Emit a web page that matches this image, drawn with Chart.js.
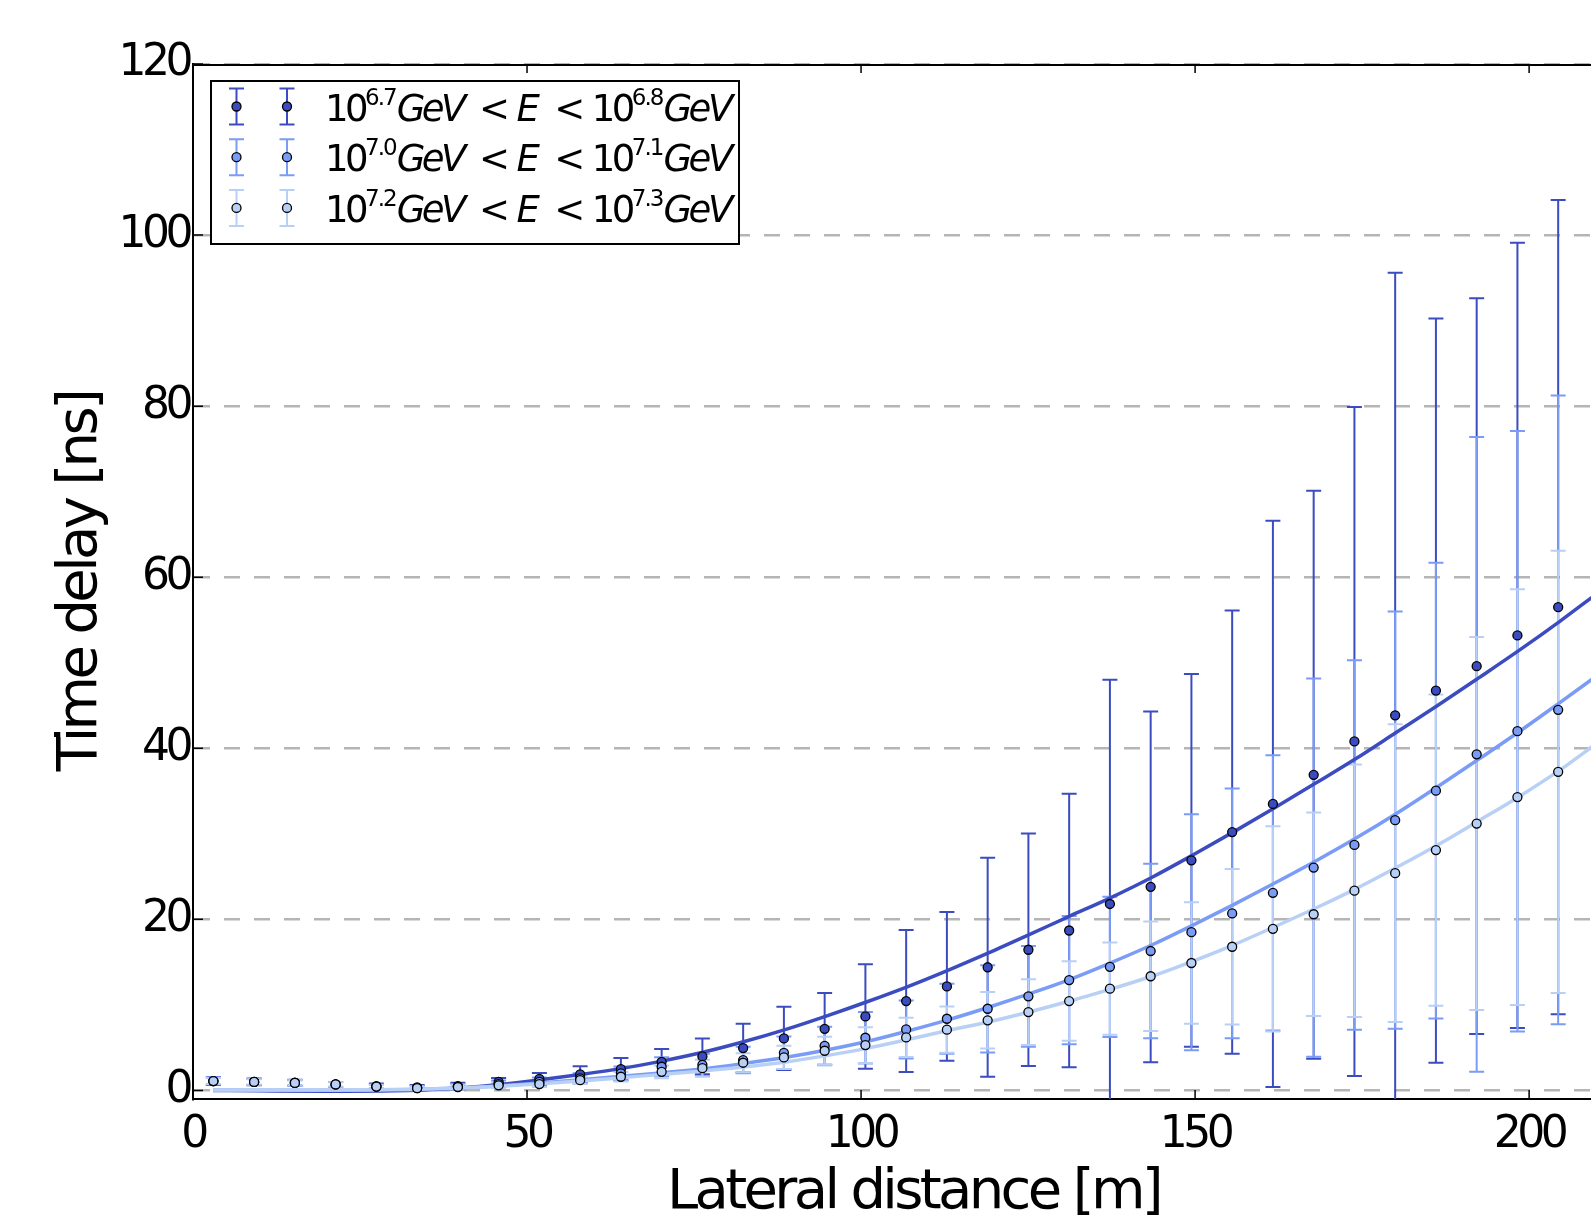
<!DOCTYPE html>
<html>
<head>
<meta charset="utf-8">
<script src="https://cdn.jsdelivr.net/npm/chart.js@4.4.0/dist/chart.umd.min.js"></script>
<style>
html, body { margin: 0; padding: 0; background: #fff; overflow: hidden; }
#wrap { width: 1640px; height: 1215px; }
</style>
</head>
<body>
<div id="wrap"><canvas id="chart" width="1640" height="1215"></canvas></div>
<script>
// lateral distance bin centres [m]
const distance = [3.05, 9.15, 15.25, 21.35, 27.45, 33.55, 39.65, 45.75, 51.85, 57.95,
    64.05, 70.15, 76.25, 82.35, 88.45, 94.55, 100.65, 106.75, 112.85, 118.95,
    125.05, 131.15, 137.25, 143.35, 149.45, 155.55, 161.65, 167.75, 173.85, 179.95,
    186.05, 192.15, 198.25, 204.35];

// 10^6.7 - 10^6.8 GeV
const delayLow = [1.1, 1.0, 0.9, 0.7, 0.5, 0.35, 0.5, 1.0, 1.35, 1.87,
    2.5, 3.35, 3.98, 4.95, 6.08, 7.2, 8.65, 10.45, 12.16, 14.4,
    16.45, 18.7, 21.8, 23.8, 26.9, 30.2, 33.5, 36.9, 40.8, 43.85,
    46.75, 49.6, 53.2, 56.5];
const errLow = [0.45, 0.4, 0.35, 0.3, 0.3, 0.3, 0.4, 0.45, 0.7, 0.95,
    1.3, 1.5, 2.1, 2.85, 3.7, 4.2, 6.1, 8.3, 8.7, 12.8,
    13.6, 16.0, 26.2, 20.5, 21.8, 25.9, 33.1, 33.2, 39.1, 51.75,
    43.5, 43.0, 45.9, 47.6];

// 10^7.0 - 10^7.1 GeV
const delayMid = [1.1, 1.0, 0.88, 0.7, 0.45, 0.28, 0.45, 0.75, 1.0, 1.4,
    2.0, 2.77, 3.0, 3.55, 4.4, 5.2, 6.16, 7.13, 8.38, 9.55,
    11.0, 12.9, 14.45, 16.3, 18.5, 20.7, 23.1, 26.05, 28.7, 31.6,
    35.05, 39.3, 42.0, 44.5];
const errMid = [0.4, 0.35, 0.3, 0.3, 0.25, 0.25, 0.3, 0.4, 0.5, 0.6,
    0.8, 1.1, 1.3, 1.55, 1.9, 2.25, 3.0, 3.4, 4.1, 5.1,
    5.9, 7.5, 8.2, 10.2, 13.8, 14.6, 16.1, 22.1, 21.6, 24.4,
    26.65, 37.1, 35.1, 36.75];

// 10^7.2 - 10^7.3 GeV
const delayHigh = [1.1, 1.0, 0.88, 0.7, 0.45, 0.27, 0.4, 0.6, 0.75, 1.2,
    1.6, 2.18, 2.6, 3.24, 3.86, 4.64, 5.3, 6.2, 7.1, 8.2,
    9.16, 10.45, 11.9, 13.35, 14.9, 16.8, 18.9, 20.6, 23.35, 25.4,
    28.1, 31.2, 34.3, 37.25];
const errHigh = [0.35, 0.3, 0.3, 0.25, 0.2, 0.2, 0.25, 0.3, 0.35, 0.45,
    0.55, 0.75, 1.0, 1.1, 1.36, 1.64, 2.1, 2.3, 2.7, 3.3,
    3.85, 4.65, 5.4, 6.4, 7.1, 9.1, 12.0, 11.9, 14.75, 17.4,
    18.2, 21.8, 24.3, 25.85];

// fitted curves
const fitDistance = [3, 10, 20, 30, 40, 46, 52, 58, 64, 70,
    76, 82, 89, 95, 101, 107, 113, 119, 125, 131,
    137, 143.5, 149.6, 155.7, 161.8, 168, 174.1, 180.2, 186.3, 192.4,
    198.6, 204.7, 210];
const fitLow = [0.0, -0.05, -0.1, -0.05, 0.3, 0.7, 1.25, 1.87, 2.55, 3.4,
    4.4, 5.6, 7.2, 8.75, 10.4, 12.15, 14.05, 16.05, 18.15, 20.3,
    22.4, 24.9, 27.5, 30.2, 33.0, 35.9, 38.8, 41.9, 45.0, 48.2,
    51.5, 54.9, 58.0];
const fitMid = [0.02, 0.02, 0.02, 0.08, 0.3, 0.55, 0.88, 1.25, 1.65, 2.05,
    2.5, 3.1, 3.9, 4.75, 5.75, 6.95, 8.25, 9.7, 11.25, 12.9,
    14.8, 17.0, 19.3, 21.7, 24.2, 26.8, 29.5, 32.4, 35.5, 38.7,
    42.0, 45.4, 48.4];
const fitHigh = [0.05, 0.05, 0.05, 0.1, 0.3, 0.5, 0.78, 1.1, 1.48, 1.87,
    2.25, 2.7, 3.35, 4.1, 4.95, 5.95, 7.0, 8.0, 9.15, 10.4,
    11.75, 13.35, 15.1, 17.0, 19.1, 21.3, 23.6, 26.1, 28.7, 31.5,
    34.4, 37.5, 40.5];

const energyBins = [['6.7', '6.8'], ['7.0', '7.1'], ['7.2', '7.3']];
const xTicks = [0, 50, 100, 150, 200];
const yTicks = [0, 20, 40, 60, 80, 100, 120];

const colors = ['#3b4cc0', '#7a9cf6', '#b9d0f6'];
const groups = [
    { values: delayLow, errors: errLow, fit: fitLow, color: colors[0] },
    { values: delayMid, errors: errMid, fit: fitMid, color: colors[1] },
    { values: delayHigh, errors: errHigh, fit: fitHigh, color: colors[2] }
];

function pts(xs, ys) {
    return xs.map((x, i) => ({ x: x, y: ys[i] }));
}

const datasets = [];
groups.forEach((g, k) => {
    datasets.push({
        type: 'line',
        data: pts(distance, g.values),
        showLine: false,
        pointRadius: 4.5,
        pointBackgroundColor: g.color,
        pointBorderColor: '#000',
        pointBorderWidth: 1.3,
        order: 2 - k
    });
});
groups.forEach((g, k) => {
    datasets.push({
        type: 'line',
        data: pts(fitDistance, g.fit),
        borderColor: g.color,
        borderWidth: 3.5,
        pointRadius: 0,
        fill: false,
        cubicInterpolationMode: 'monotone',
        order: 5 - k
    });
});

function strokeBar(ctx, px, top, bot, half) {
    ctx.beginPath();
    ctx.moveTo(px, top); ctx.lineTo(px, bot);
    ctx.moveTo(px - half, top); ctx.lineTo(px + half, top);
    ctx.moveTo(px - half, bot); ctx.lineTo(px + half, bot);
    ctx.stroke();
}

const errorBars = {
    id: 'errorBars',
    beforeDatasetsDraw(chart) {
        const { ctx, chartArea, scales: { x, y } } = chart;
        ctx.save();
        ctx.beginPath();
        ctx.rect(chartArea.left, chartArea.top, chartArea.width, chartArea.height);
        ctx.clip();
        // top spine, under the dashed grid
        ctx.strokeStyle = '#000';
        ctx.lineWidth = 2;
        ctx.beginPath();
        ctx.moveTo(chartArea.left, chartArea.top + 1);
        ctx.lineTo(chartArea.right, chartArea.top + 1);
        ctx.stroke();
        groups.forEach(g => {
            ctx.strokeStyle = g.color;
            ctx.lineWidth = 2;
            distance.forEach((d, i) => {
                const px = x.getPixelForValue(d);
                strokeBar(ctx, px, y.getPixelForValue(g.values[i] + g.errors[i]),
                    y.getPixelForValue(g.values[i] - g.errors[i]), 7.5);
            });
        });
        ctx.restore();
    }
};

const decor = {
    id: 'decor',
    beforeDraw(chart) {
        chart.ctx.letterSpacing = '-4.5px';
    },
    afterDraw(chart) {
        const { ctx, chartArea, scales: { x, y } } = chart;
        ctx.save();
        // inward ticks
        ctx.strokeStyle = '#000';
        ctx.lineWidth = 1.5;
        ctx.beginPath();
        xTicks.forEach(v => {
            const px = x.getPixelForValue(v);
            ctx.moveTo(px, chartArea.bottom); ctx.lineTo(px, chartArea.bottom - 9);
            ctx.moveTo(px, chartArea.top); ctx.lineTo(px, chartArea.top + 9);
        });
        yTicks.forEach(v => {
            const py = y.getPixelForValue(v);
            ctx.moveTo(chartArea.left, py); ctx.lineTo(chartArea.left + 10, py);
        });
        ctx.stroke();

        // axis titles
        ctx.fillStyle = '#000';
        ctx.letterSpacing = '-3.65px';
        ctx.font = '56px "DejaVu Sans"';
        ctx.textAlign = 'center';
        ctx.textBaseline = 'alphabetic';
        ctx.fillText('Lateral distance [m]', (chartArea.left + chartArea.right) / 2, 1208);
        ctx.save();
        ctx.translate(96, (chartArea.top + chartArea.bottom) / 2);
        ctx.rotate(-Math.PI / 2);
        ctx.fillText('Time delay [ns]', 0, 0);
        ctx.restore();

        // legend
        ctx.fillStyle = '#fff';
        ctx.fillRect(211, 81, 528, 163);
        ctx.strokeStyle = '#000';
        ctx.lineWidth = 2;
        ctx.strokeRect(211, 81, 528, 163);
        ctx.textAlign = 'left';
        const up = '37px "DejaVu Sans"';
        const it = 'italic 37px "DejaVu Sans"';
        const sup = '23px "DejaVu Sans"';
        groups.forEach((g, r) => {
            const cy = 106.5 + r * 50.7;
            [236.5, 287].forEach(mx => {
                ctx.strokeStyle = g.color;
                ctx.lineWidth = 2;
                strokeBar(ctx, mx, cy - 18, cy + 18, 7.5);
                ctx.beginPath();
                ctx.arc(mx, cy, 4.5, 0, Math.PI * 2);
                ctx.fillStyle = g.color;
                ctx.fill();
                ctx.strokeStyle = '#000';
                ctx.lineWidth = 1.3;
                ctx.stroke();
            });
            const base = cy + 14;
            let tx = 325;
            ctx.fillStyle = '#000';
            const put = (text, font, dy, gap) => {
                ctx.font = font;
                ctx.letterSpacing = font === sup ? '-2px' : '-3.5px';
                ctx.fillText(text, tx, base + dy);
                tx += ctx.measureText(text).width + gap;
            };
            put('10', up, 0, 0);
            put(energyBins[r][0], sup, -16, 1);
            put('GeV', it, 0, 16);
            put('<', up, 0, 10);
            put('E', it, 0, 18);
            put('<', up, 0, 10);
            put('10', up, 0, 0);
            put(energyBins[r][1], sup, -16, 1);
            put('GeV', it, 0, 0);
        });
        ctx.restore();
    }
};

new Chart(document.getElementById('chart'), {
    type: 'line',
    data: { datasets: datasets },
    options: {
        responsive: false,
        animation: false,
        layout: { padding: { top: 64, right: 6, left: 0, bottom: 0 } },
        plugins: { legend: { display: false }, tooltip: { enabled: false } },
        scales: {
            x: {
                type: 'linear',
                min: 0,
                max: 215.7,
                z: 1,
                afterBuildTicks: s => { s.ticks = xTicks.map(v => ({ value: v })); },
                afterFit: s => { s.height = 116; },
                ticks: { color: '#000', padding: 10, maxRotation: 0, font: { family: 'DejaVu Sans', size: 44 } },
                grid: { display: false, drawTicks: false },
                border: { display: true, color: '#000', width: 2 }
            },
            y: {
                type: 'linear',
                min: -1,
                max: 120,
                z: 1,
                afterBuildTicks: s => { s.ticks = yTicks.map(v => ({ value: v })); },
                afterFit: s => { s.width = 193; },
                ticks: { color: '#000', padding: 4, font: { family: 'DejaVu Sans', size: 44 } },
                grid: { color: '#b5b5b5', lineWidth: 2.5, drawTicks: false },
                border: { display: true, color: '#000', width: 2, dash: [16, 14] }
            }
        }
    },
    plugins: [errorBars, decor]
});
</script>
</body>
</html>
